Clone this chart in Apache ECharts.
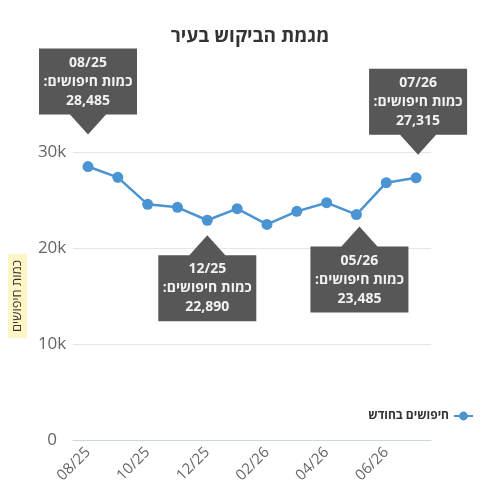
<!DOCTYPE html>
<html>
<head>
<meta charset="utf-8">
<script src="https://cdn.jsdelivr.net/npm/echarts@6/dist/echarts.min.js"></script>
<style>html,body{margin:0;padding:0;background:#fff;}#c{width:500px;height:500px;}</style>
</head>
<body>
<div id="c"></div>
<script>
const months = ['08/25','09/25','10/25','11/25','12/25','01/26','02/26','03/26','04/26','05/26','06/26','07/26'];
const searches = [28485, 27360, 24550, 24240, 22890, 24100, 22460, 23820, 24720, 23485, 26800, 27315];
const seriesName = 'חיפושים בחודש';
const yAxisName = 'כמות חיפושים';
const calloutLabel = 'כמות חיפושים:';
const calloutsAbove = ['08/25', '07/26'];
const calloutsBelow = ['12/25', '05/26'];
const yTicks = [0, 10000, 20000, 30000];

const FONT = '"Open Sans", "Liberation Sans", "DejaVu Sans", sans-serif';
const pathAbove = 'path://M0,0H98V66H67L49,86L31,66H0Z';
const pathBelow = 'path://M31,20L49,0L67,20H98V86H0V20Z';
const offsets = { '08/25': [0, -75], '07/26': [2, -66], '12/25': [0, 58], '05/26': [3, 55] };

function callout(m, above) {
  const i = months.indexOf(m);
  return {
    name: m,
    coord: [m, searches[i]],
    value: searches[i],
    symbol: above ? pathAbove : pathBelow,
    symbolSize: [98, 86],
    symbolOffset: offsets[m],
    label: { offset: [0, above ? -10 : 10] }
  };
}

const chart = echarts.init(document.getElementById('c'));
chart.setOption({
  animation: false,
  title: {
    text: 'מגמת הביקוש בעיר',
    left: 'center',
    top: 22,
    textStyle: { fontFamily: FONT, fontSize: 19, fontWeight: 'bold', color: '#333333' }
  },
  legend: {
    orient: 'vertical',
    right: 21,
    top: 405,
    align: 'right',
    itemWidth: 19,
    itemHeight: 11,
    itemGap: 8,
    textStyle: { fontFamily: FONT, fontSize: 12, fontWeight: 'bold', color: '#333333' },
    data: [seriesName]
  },
  grid: { left: 71, right: 69, top: 152, bottom: 60, containLabel: false },
  xAxis: {
    type: 'category',
    data: months,
    boundaryGap: true,
    axisLine: { lineStyle: { color: '#ccd6eb', width: 1 } },
    axisTick: { alignWithLabel: true, interval: 1, length: 6, lineStyle: { color: '#ccd6eb' } },
    axisLabel: { interval: 1, rotate: 45, fontFamily: FONT, fontSize: 15, color: '#666666', margin: 10 },
    splitLine: { show: false }
  },
  yAxis: {
    type: 'value',
    min: yTicks[0],
    max: yTicks[yTicks.length - 1],
    interval: 10000,
    name: yAxisName,
    nameLocation: 'middle',
    nameGap: 44,
    nameTextStyle: { fontFamily: FONT, fontSize: 13, color: '#333333', backgroundColor: '#fff6c6', padding: [3, 6] },
    axisLine: { show: false },
    axisTick: { show: false },
    axisLabel: {
      fontFamily: FONT, fontSize: 17, color: '#666666', align: 'center', margin: 21,
      formatter: v => v === 0 ? '0' : (v / 1000) + 'k'
    },
    splitLine: { lineStyle: { color: '#e6e6e6', width: 1 } }
  },
  series: [{
    name: seriesName,
    type: 'line',
    data: searches,
    symbol: 'circle',
    symbolSize: 11,
    itemStyle: { color: '#4a94d4' },
    lineStyle: { color: '#4a94d4', width: 2.5 },
    z: 2,
    markPoint: {
      z: 5,
      symbolKeepAspect: false,
      itemStyle: { color: '#575757' },
      label: {
        show: true,
        position: 'inside',
        fontFamily: FONT,
        fontSize: 14,
        fontWeight: 'bold',
        lineHeight: 19,
        color: '#f2f2f2',
        formatter: p => p.name + '\n' + calloutLabel + '\u200F\n' + Number(p.value).toLocaleString('en-US')
      },
      data: calloutsAbove.map(m => callout(m, true)).concat(calloutsBelow.map(m => callout(m, false)))
    }
  }]
});
</script>
</body>
</html>
